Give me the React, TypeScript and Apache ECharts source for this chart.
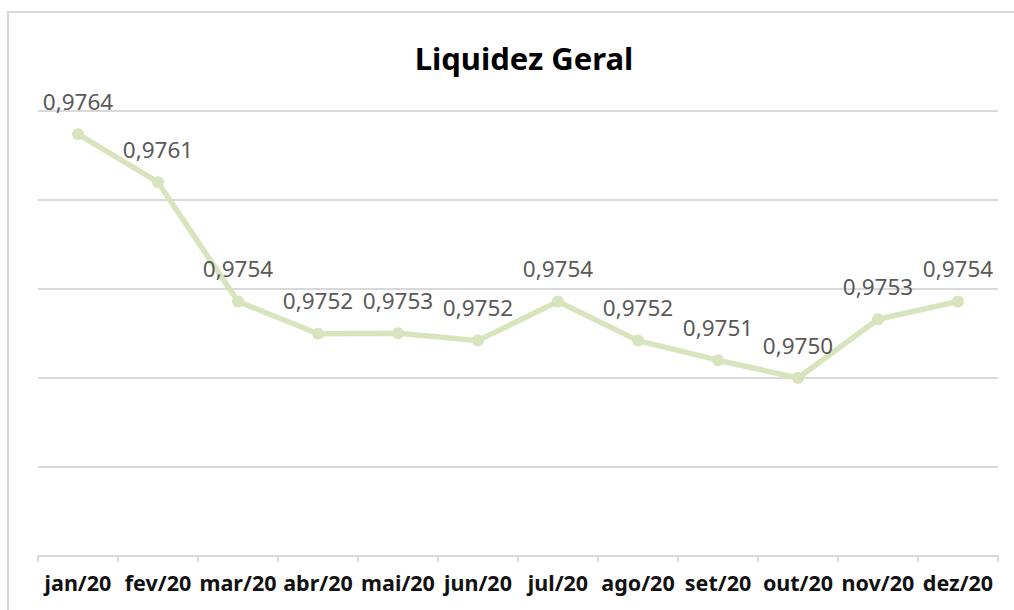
import React, { useEffect, useRef } from "react";
import * as echarts from "echarts";

const categories = ["jan/20", "fev/20", "mar/20", "abr/20", "mai/20", "jun/20", "jul/20", "ago/20", "set/20", "out/20", "nov/20", "dez/20"];
const liquidez = [0.97637, 0.9761, 0.97543, 0.975249, 0.975251, 0.97521, 0.97543, 0.97521, 0.9751, 0.975, 0.97533, 0.97543];
const titleText = "Liquidez Geral";

export default function App() {
  const ref = useRef<HTMLDivElement>(null);
  useEffect(() => {
    document.body.style.margin = "0";
    const chart = echarts.init(ref.current!, null, { renderer: "svg" });
    chart.setOption({
      animation: false,
      backgroundColor: "#ffffff",
      title: {
        text: titleText,
        left: 519,
        top: 37,
        textAlign: "center",
        textStyle: { fontFamily: "Noto Sans", fontWeight: "bold", fontSize: 31, color: "#000000" },
      },
      graphic: [
        {
          type: "rect",
          shape: { x: 8, y: 12, width: 1020, height: 620 },
          style: { fill: "none", stroke: "#d9d9d9", lineWidth: 2 },
          silent: true,
        },
      ],
      grid: { left: 38, right: 16, top: 111, bottom: 54, containLabel: false },
      xAxis: {
        type: "category",
        data: categories,
        boundaryGap: true,
        axisLine: { lineStyle: { color: "#d9d9d9", width: 2 } },
        axisTick: { show: true, length: 6, lineStyle: { color: "#d9d9d9", width: 2 } },
        axisLabel: {
          interval: 0,
          margin: 15,
          fontFamily: "Noto Sans",
          fontWeight: "bold",
          fontSize: 21.5,
          color: "#111111",
        },
      },
      yAxis: {
        type: "value",
        min: 0.974,
        max: 0.9765,
        interval: 0.0005,
        axisLabel: { show: false },
        axisLine: { show: false },
        axisTick: { show: false },
        splitLine: { lineStyle: { color: "#d9d9d9", width: 2 } },
      },
      series: [
        {
          type: "line",
          data: liquidez,
          symbol: "circle",
          symbolSize: 12,
          lineStyle: { color: "#d7e4bd", width: 5.5 },
          itemStyle: { color: "#d7e4bd" },
          label: {
            show: true,
            position: "top",
            distance: 16,
            fontFamily: "Noto Sans",
            fontSize: 22.5,
            lineHeight: 22,
            color: "#595959",
            formatter: (p: any) => p.value.toFixed(4).replace(".", ","),
          },
        },
      ],
    });
    return () => chart.dispose();
  }, []);
  return <div ref={ref} style={{ width: 1014, height: 610 }} />;
}
